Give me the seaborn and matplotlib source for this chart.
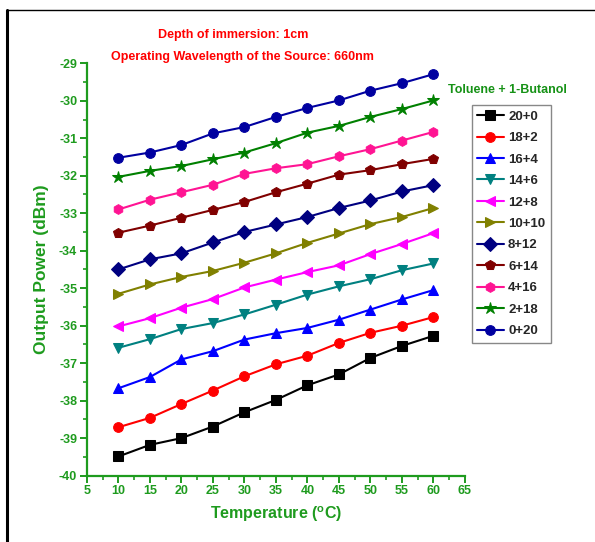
import numpy as np
import pandas as pd
import matplotlib
matplotlib.use('Agg')
import matplotlib.pyplot as plt
import seaborn as sns
from matplotlib.lines import Line2D
from matplotlib.ticker import MultipleLocator

sns.set_style('ticks')
plt.rcParams['font.family'] = ['Liberation Sans', 'DejaVu Sans']
plt.rcParams['font.weight'] = 'bold'
plt.rcParams['axes.unicode_minus'] = False

# temperature (degC)
temps = [10, 15, 20, 25, 30, 35, 40, 45, 50, 55, 60]

# output power (dBm), toluene + 1-butanol mixtures
p_20_0 = [-39.49, -39.18, -39.00, -38.69, -38.31, -37.98, -37.59, -37.30, -36.86, -36.54, -36.27]
p_18_2 = [-38.71, -38.46, -38.09, -37.73, -37.35, -37.03, -36.80, -36.46, -36.19, -36.00, -35.77]
p_16_4 = [-37.67, -37.37, -36.90, -36.68, -36.37, -36.20, -36.06, -35.84, -35.57, -35.30, -35.05]
p_14_6 = [-36.59, -36.36, -36.09, -35.93, -35.70, -35.44, -35.17, -34.95, -34.76, -34.52, -34.34]
p_12_8 = [-36.02, -35.80, -35.52, -35.29, -34.98, -34.77, -34.57, -34.39, -34.09, -33.82, -33.53]
p_10_10 = [-35.15, -34.90, -34.70, -34.54, -34.32, -34.07, -33.79, -33.54, -33.29, -33.10, -32.86]
p_8_12 = [-34.50, -34.23, -34.07, -33.78, -33.50, -33.30, -33.10, -32.86, -32.66, -32.42, -32.25]
p_6_14 = [-33.52, -33.33, -33.12, -32.91, -32.70, -32.44, -32.21, -31.97, -31.85, -31.69, -31.55]
p_4_16 = [-32.90, -32.64, -32.44, -32.24, -31.95, -31.80, -31.69, -31.48, -31.29, -31.06, -30.83]
p_2_18 = [-32.03, -31.87, -31.74, -31.56, -31.38, -31.13, -30.85, -30.67, -30.43, -30.22, -29.99]
p_0_20 = [-31.52, -31.38, -31.18, -30.87, -30.70, -30.43, -30.19, -29.99, -29.73, -29.53, -29.29]

labels = ['20+0', '18+2', '16+4', '14+6', '12+8', '10+10', '8+12', '6+14', '4+16', '2+18', '0+20']
series = [p_20_0, p_18_2, p_16_4, p_14_6, p_12_8, p_10_10, p_8_12, p_6_14, p_4_16, p_2_18, p_0_20]
colors = ['#000000', '#ff0000', '#0000ff', '#008080', '#ff00ff', '#808000',
          '#000080', '#800000', '#ff1493', '#008000', '#0000a0']
markers = ['s', 'o', '^', 'v', '<', '>', 'D', 'p', 'h', '*', 'o']

green = '#1e9b1e'

fig = plt.figure(figsize=(5.95, 5.42), dpi=100)
ax = fig.add_axes([0.146, 0.1225, 0.6355, 0.7607])

for lab, vals, c, m in zip(labels, series, colors, markers):
    df = pd.DataFrame({'T': temps, 'P': vals})
    ms = 9 if m == '*' else 7
    sns.lineplot(data=df, x='T', y='P', ax=ax, color=c, marker=m, markersize=ms,
                 markeredgecolor=c, linewidth=1.5, label=lab, legend=False)

ax.set_xlim(5, 65)
ax.set_ylim(-40, -29)
ax.xaxis.set_minor_locator(MultipleLocator(2.5))
ax.yaxis.set_major_locator(MultipleLocator(1))
ax.yaxis.set_minor_locator(MultipleLocator(0.5))
ax.set_xticks(range(5, 66, 5))
ax.set_xticklabels([str(v) for v in range(5, 66, 5)])

sns.despine(ax=ax)
for s in ['left', 'bottom']:
    ax.spines[s].set_color(green)
    ax.spines[s].set_linewidth(1.6)
ax.tick_params(which='major', direction='out', length=5, width=1.4, color=green,
               labelcolor=green, labelsize=9, pad=2)
ax.tick_params(which='minor', direction='out', length=3, width=1.2, color=green)
for t in ax.get_xticklabels() + ax.get_yticklabels():
    t.set_fontweight('bold')

ax.set_xlabel('Temperature ($\\mathregular{^{o}}$C)', color=green, fontsize=11.5,
              fontweight='bold', labelpad=5)
ax.set_ylabel('Output Power (dBm)', color=green, fontsize=12.5, fontweight='bold',
              labelpad=7)

fig.text(0.392, 0.935, 'Depth of immersion: 1cm', color='red', fontsize=9,
         fontweight='bold', ha='center', va='center')
fig.text(0.408, 0.895, 'Operating Wavelength of the Source: 660nm', color='red',
         fontsize=9, fontweight='bold', ha='center', va='center')
fig.text(0.853, 0.834, 'Toluene + 1-Butanol', color='#169216', fontsize=9,
         fontweight='bold', ha='center', va='center')

handles, hl = ax.get_legend_handles_labels()
leg = fig.legend(handles, hl, loc='upper left', bbox_to_anchor=(0.793, 0.806),
                 borderaxespad=0, fancybox=False, edgecolor='#888888',
                 prop={'weight': 'bold', 'size': 9.5}, handlelength=2.0,
                 labelspacing=0.7, handletextpad=0.35, borderpad=0.4, framealpha=1)
leg.get_frame().set_linewidth(1.0)

# outer page frame
fig.add_artist(Line2D([0.012, 0.012], [0, 0.982], color='black', lw=2.2,
                      transform=fig.transFigure))
fig.add_artist(Line2D([0.012, 1.0], [0.982, 0.982], color='black', lw=1.0,
                      transform=fig.transFigure))

fig.savefig('out.png', dpi=100)
